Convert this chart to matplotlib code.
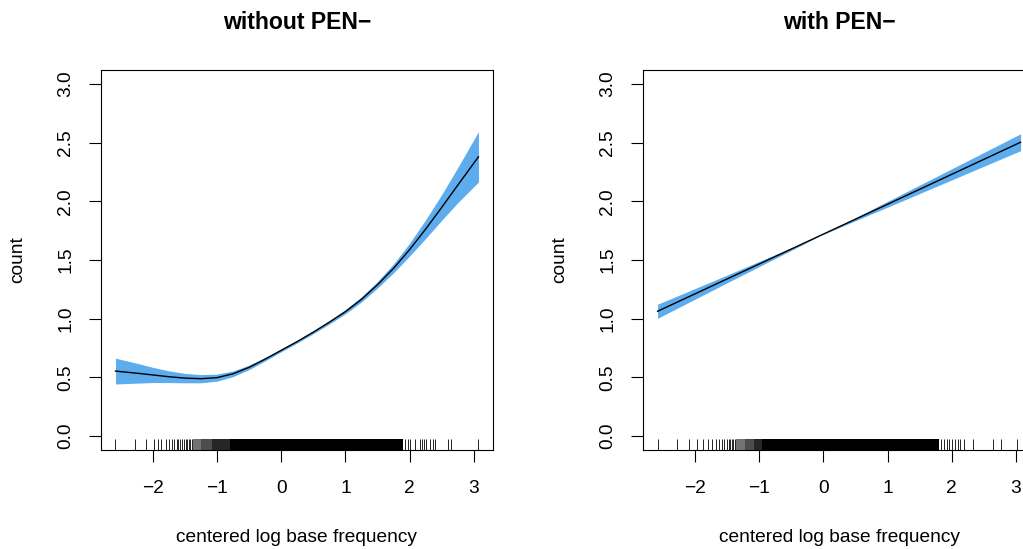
import matplotlib
matplotlib.use('Agg')
import matplotlib.pyplot as plt

plt.rcParams['font.family'] = ['Liberation Sans', 'DejaVu Sans']

# left panel: smooth fit without PEN-
x_left = [-2.58, -2.25, -2.0, -1.75, -1.5, -1.25, -1.0, -0.75, -0.5, -0.25, 0.0, 0.25,
          0.5, 0.75, 1.0, 1.25, 1.5, 1.75, 2.0, 2.25, 2.5, 2.75, 3.07]
fit_left = [0.553, 0.535, 0.52, 0.505, 0.493, 0.488, 0.497, 0.53, 0.585, 0.655, 0.73, 0.805,
            0.885, 0.97, 1.06, 1.165, 1.29, 1.43, 1.59, 1.765, 1.95, 2.14, 2.38]
lo_left = [0.443, 0.450, 0.455, 0.455, 0.453, 0.453, 0.467, 0.506, 0.566, 0.640, 0.718, 0.793,
           0.872, 0.955, 1.042, 1.143, 1.262, 1.392, 1.535, 1.685, 1.84, 1.99, 2.165]
hi_left = [0.663, 0.620, 0.585, 0.555, 0.533, 0.523, 0.527, 0.554, 0.604, 0.670, 0.742, 0.817,
           0.898, 0.985, 1.078, 1.187, 1.318, 1.468, 1.645, 1.845, 2.06, 2.29, 2.595]

# right panel: linear fit with PEN-
x_right = [-2.58, -1.5, -0.5, -0.05, 0.5, 1.5, 3.07]
fit_right = [1.063, 1.338, 1.593, 1.708, 1.848, 2.103, 2.504]
lo_right = [1.003, 1.305, 1.582, 1.707, 1.835, 2.067, 2.432]
hi_right = [1.123, 1.371, 1.604, 1.709, 1.861, 2.139, 2.576]

# rug: separate ticks at the tails, shaded blocks where ticks merge
rug_left = [-2.58, -2.275, -2.10, -1.975, -1.92, -1.87, -1.80, -1.75, -1.705, -1.67, -1.63,
            -1.60, -1.575, -1.55, -1.52, -1.49, -1.465, -1.44, -1.42, -1.395,
            1.92, 1.98, 2.01, 2.08, 2.16, 2.19, 2.22, 2.26, 2.31, 2.36, 2.39, 2.60, 2.65, 3.06]
rug_left_blocks = [(-1.38, -1.25, '0.45'), (-1.25, -1.08, '0.3'), (-1.08, -0.80, '0.15'),
                   (-0.80, 1.90, 'black')]
rug_right = [-2.58, -2.27, -2.09, -1.96, -1.88, -1.79, -1.73, -1.675, -1.62, -1.58, -1.545,
             -1.50, -1.47, -1.445, -1.42, -1.40, -1.375,
             1.83, 1.88, 1.92, 1.95, 2.0, 2.05, 2.10, 2.13, 2.19, 2.33, 2.64, 2.77, 3.02]
rug_right_blocks = [(-1.36, -1.22, '0.45'), (-1.22, -1.08, '0.3'), (-1.08, -0.95, '0.15'),
                    (-0.95, 1.80, 'black')]

xticks = [-2, -1, 0, 1, 2, 3]
xticklabels = ['\u22122', '\u22121', '0', '1', '2', '3']
yticks = [0.0, 0.5, 1.0, 1.5, 2.0, 2.5, 3.0]
yticklabels = ['0.0', '0.5', '1.0', '1.5', '2.0', '2.5', '3.0']
titles = ['without PEN\u2212', 'with PEN\u2212']

fig = plt.figure(figsize=(10.23, 5.49), dpi=100)
ax1 = fig.add_axes([0.0987, 0.1803, 0.3832, 0.6922])
ax2 = fig.add_axes([0.6286, 0.1803, 0.3832, 0.6922])

panels = [(ax1, x_left, fit_left, lo_left, hi_left, rug_left, rug_left_blocks),
          (ax2, x_right, fit_right, lo_right, hi_right, rug_right, rug_right_blocks)]

for i, (ax, x, fit, lo, hi, rug, blocks) in enumerate(panels):
    ax.fill_between(x, lo, hi, color='#5CACEE', linewidth=0)
    ax.plot(x, fit, color='black', linewidth=1.0)
    tr = ax.get_xaxis_transform()
    ax.vlines(rug, 0, 0.03, transform=tr, color='black', linewidth=0.6)
    for a, b, c in blocks:
        ax.axvspan(a, b, ymin=0, ymax=0.03, color=c, linewidth=0)

    ax.set_xlim(-2.806, 3.296)
    ax.set_ylim(-0.12, 3.12)
    ax.set_xticks(xticks)
    ax.set_xticklabels(xticklabels)
    ax.set_yticks(yticks)
    ax.set_yticklabels(yticklabels, rotation=90, va='center')
    ax.tick_params(direction='out', length=8.3, width=0.8, labelsize=13.8)
    ax.tick_params(axis='x', pad=13.5)
    ax.tick_params(axis='y', pad=11)
    for s in ax.spines.values():
        s.set_linewidth(0.8)

    ax.set_xlabel('centered log base frequency', fontsize=13.8, va='center')
    ax.xaxis.set_label_coords(0.5, -0.229)
    ax.set_ylabel('count', fontsize=13.8, va='center')
    ax.yaxis.set_label_coords(-0.212, 0.5)
    ax.set_title(titles[i], fontsize=16.6, fontweight='bold', y=1.108, pad=0)

plt.savefig('out.png', dpi=100)
